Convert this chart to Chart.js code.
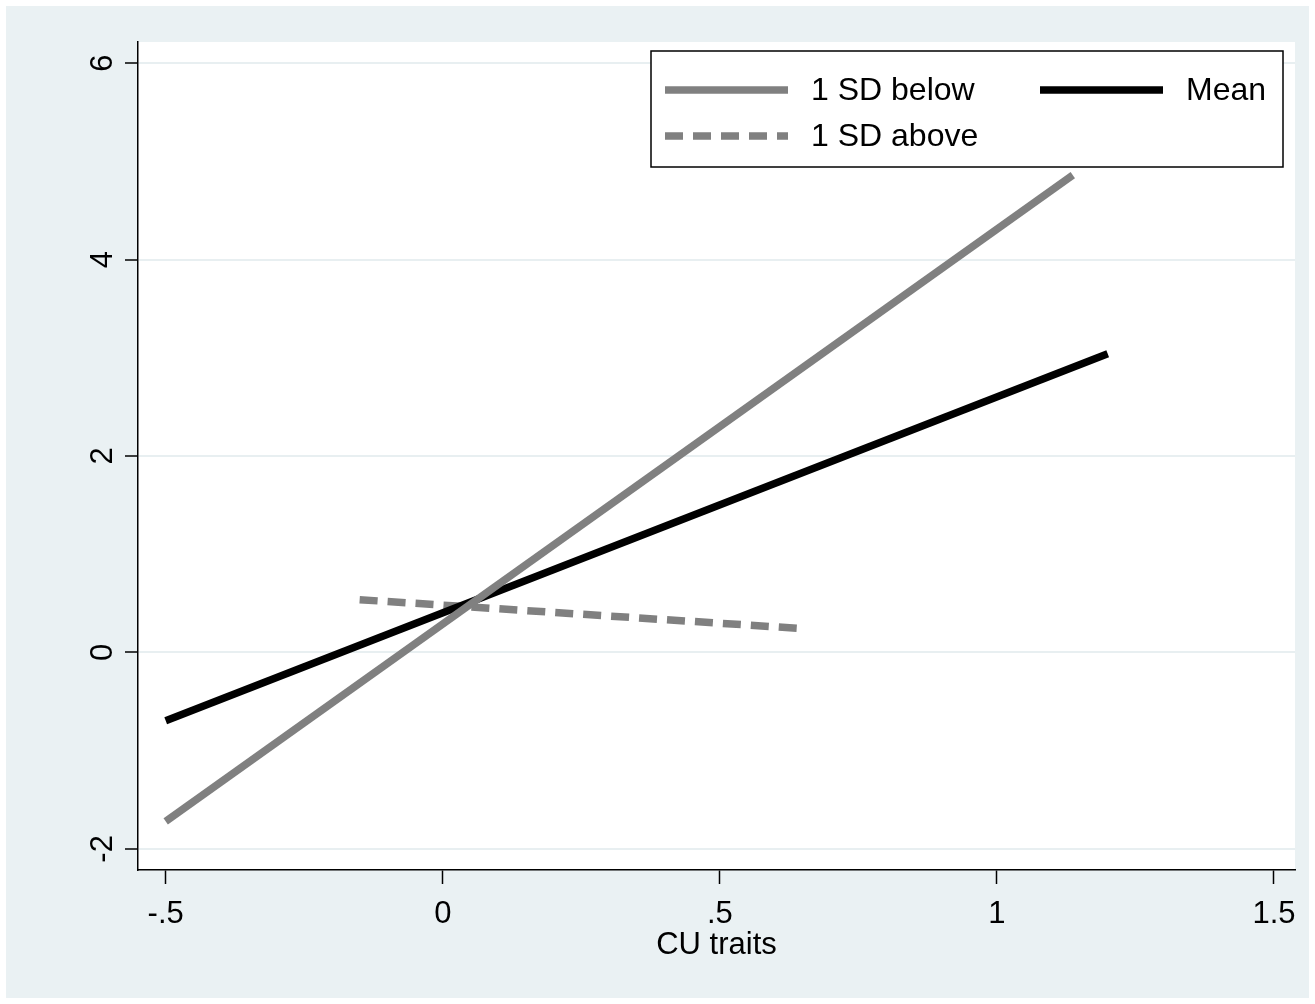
<!DOCTYPE html>
<html>
<head>
<meta charset="utf-8">
<script src="https://cdn.jsdelivr.net/npm/chart.js@4.4.1/dist/chart.umd.min.js"></script>
<style>
html,body{margin:0;padding:0;background:#fff;}
#wrap{width:1315px;height:1004px;position:relative;}
</style>
</head>
<body>
<div id="wrap"><canvas id="c" width="1315" height="1004"></canvas></div>
<script>
// Data
const seriesLabels = ["1 SD below", "Mean", "1 SD above"];
const belowX = [-0.5, 1.137];
const belowY = [-1.72, 4.86];
const meanX = [-0.5, 1.2];
const meanY = [-0.695, 3.04];
const aboveX = [-0.15, 0.65];
const aboveY = [0.537, 0.242];
const xTicks = [-0.5, 0, 0.5, 1, 1.5];
const xTickLabels = ["-.5", "0", ".5", "1", "1.5"];
const yTicks = [-2, 0, 2, 4, 6];
const xTitle = "CU traits";

const FONT = "'Liberation Sans', Arial, Helvetica, sans-serif";
const toPts = (xs, ys) => xs.map((x, i) => ({x: x, y: ys[i]}));

const bgPlugin = {
  id: 'bg',
  beforeDraw(chart) {
    const ctx = chart.ctx;
    ctx.save();
    ctx.fillStyle = '#ffffff';
    ctx.fillRect(0, 0, chart.width, chart.height);
    ctx.fillStyle = '#EAF1F3';
    ctx.fillRect(6, 6, chart.width - 12, chart.height - 12);
    const a = chart.chartArea;
    ctx.fillStyle = '#ffffff';
    ctx.fillRect(a.left, a.top, a.right - a.left, a.bottom - a.top);
    ctx.restore();
  }
};

const legendPlugin = {
  id: 'boxLegend',
  afterDraw(chart) {
    const ctx = chart.ctx;
    const ds = chart.data.datasets;
    ctx.save();
    const bx = 651, by = 51, bw = 632, bh = 116;
    ctx.fillStyle = '#ffffff';
    ctx.fillRect(bx, by, bw, bh);
    ctx.strokeStyle = '#000';
    ctx.lineWidth = 1.5;
    ctx.strokeRect(bx, by, bw, bh);
    const slots = [
      {i: 0, x: 665, y: 90},
      {i: 1, x: 1040, y: 90},
      {i: 2, x: 665, y: 136}
    ];
    ctx.font = '32px ' + FONT;
    ctx.textBaseline = 'middle';
    ctx.textAlign = 'left';
    slots.forEach(s => {
      const d = ds[s.i];
      ctx.beginPath();
      ctx.strokeStyle = d.borderColor;
      ctx.lineWidth = d.borderWidth;
      ctx.lineCap = 'butt';
      ctx.setLineDash(d.borderDash || []);
      ctx.moveTo(s.x, s.y);
      ctx.lineTo(s.x + 123, s.y);
      ctx.stroke();
      ctx.setLineDash([]);
      ctx.fillStyle = '#000';
      ctx.fillText(d.label, s.x + 146, s.y + 1);
    });
    ctx.restore();
  }
};

new Chart(document.getElementById('c'), {
  type: 'line',
  data: {
    datasets: [
      {label: seriesLabels[0], data: toPts(belowX, belowY), borderColor: '#808080', borderWidth: 7.5, pointRadius: 0, fill: false, tension: 0},
      {label: seriesLabels[1], data: toPts(meanX, meanY), borderColor: '#000000', borderWidth: 7.5, pointRadius: 0, fill: false, tension: 0},
      {label: seriesLabels[2], data: toPts(aboveX, aboveY), borderColor: '#808080', borderWidth: 7.5, borderDash: [18, 10], pointRadius: 0, fill: false, tension: 0}
    ]
  },
  options: {
    responsive: false,
    animation: false,
    events: [],
    layout: {padding: {left: 0, top: 42, right: 20, bottom: 40}},
    plugins: {legend: {display: false}, tooltip: {enabled: false}},
    scales: {
      x: {
        type: 'linear',
        min: -0.55, max: 1.538,
        afterFit: s => { s.height = 94; },
        afterBuildTicks: s => { s.ticks = xTicks.map(v => ({value: v})); },
        border: {display: true, color: '#000', width: 1.5},
        grid: {drawOnChartArea: false, drawTicks: true, tickLength: 14, tickColor: '#000', tickWidth: 1.5},
        ticks: {
          color: '#000', font: {family: FONT, size: 31}, padding: 12, maxRotation: 0, minRotation: 0,
          callback: v => { const i = xTicks.indexOf(v); return i >= 0 ? xTickLabels[i] : ''; }
        },
        title: {display: true, text: xTitle, color: '#000', font: {family: FONT, size: 31}, padding: {top: 0, bottom: 0}}
      },
      y: {
        type: 'linear',
        min: -2.215, max: 6.215,
        afterFit: s => { s.width = 138; },
        afterBuildTicks: s => { s.ticks = yTicks.map(v => ({value: v})); },
        border: {display: true, color: '#000', width: 1.5},
        grid: {color: '#E8EFF1', lineWidth: 2, drawTicks: true, tickLength: 13, tickColor: '#000', tickWidth: 1.5},
        ticks: {color: '#000', font: {family: FONT, size: 31}, padding: 8, minRotation: 90, maxRotation: 90, crossAlign: 'center'}
      }
    }
  },
  plugins: [bgPlugin, legendPlugin]
});
</script>
</body>
</html>
